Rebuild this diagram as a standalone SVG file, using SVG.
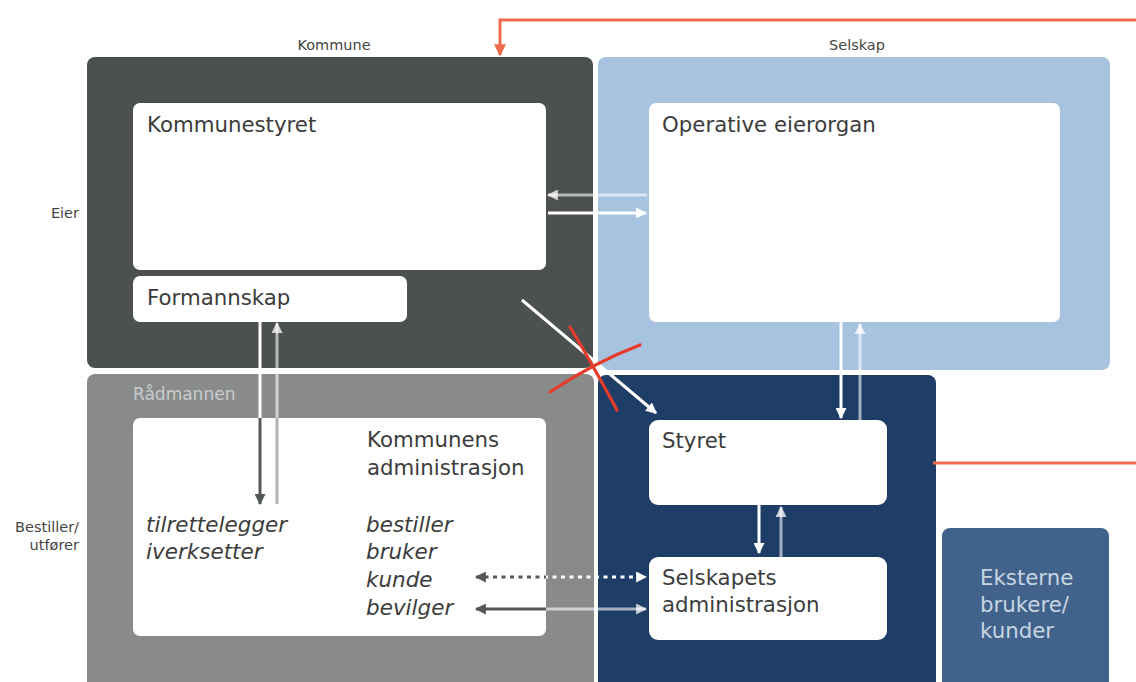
<svg xmlns="http://www.w3.org/2000/svg" width="1136" height="682" viewBox="0 0 1136 682">
<style>
  .lbl { font-family: "DejaVu Sans", Verdana, sans-serif; fill: #3c3c3c; }
  .big { font-size: 21.3px; }
  .it { font-size: 21.5px; font-style: italic; }
  .small { font-size: 14.5px; fill: #444; }
  .side { font-size: 14.5px; fill: #444; text-anchor: end; }
  .wbox { fill: #ffffff; }
  .strongW { stroke: #ffffff; stroke-width: 3; fill: none; }
  .softW { stroke: #ffffff; stroke-opacity: 0.6; stroke-width: 3; fill: none; }
  .strongG { stroke: #555859; stroke-width: 3; fill: none; }
  .softG { stroke: #b2b4b4; stroke-width: 3; fill: none; }
  .red { stroke: #ee6a4c; stroke-width: 3; fill: none; }
  .cross { stroke: #e63b2a; stroke-width: 3.2; fill: none; stroke-linecap: round; }
</style>
<defs>
  <marker id="aW" viewBox="0 0 10 10" refX="9" refY="5" markerWidth="11" markerHeight="11" markerUnits="userSpaceOnUse" orient="auto-start-reverse"><path d="M0,0 L10,5 L0,10 z" fill="#ffffff"/></marker>
  <marker id="aS" viewBox="0 0 10 10" refX="9" refY="5" markerWidth="11" markerHeight="11" markerUnits="userSpaceOnUse" orient="auto-start-reverse"><path d="M0,0 L10,5 L0,10 z" fill="#ffffff" fill-opacity="0.75"/></marker>
  <marker id="aG" viewBox="0 0 10 10" refX="9" refY="5" markerWidth="11" markerHeight="11" markerUnits="userSpaceOnUse" orient="auto-start-reverse"><path d="M0,0 L10,5 L0,10 z" fill="#555859"/></marker>
  <marker id="aL" viewBox="0 0 10 10" refX="9" refY="5" markerWidth="11" markerHeight="11" markerUnits="userSpaceOnUse" orient="auto-start-reverse"><path d="M0,0 L10,5 L0,10 z" fill="#b2b4b4"/></marker>
  <marker id="aR" viewBox="0 0 10 10" refX="9" refY="5" markerWidth="12" markerHeight="12" markerUnits="userSpaceOnUse" orient="auto"><path d="M0,0 L10,5 L0,10 z" fill="#ee6a4c"/></marker>
  <clipPath id="onWhite">
    <rect x="133" y="103" width="413" height="167" rx="7"/>
    <rect x="133" y="276" width="274" height="46" rx="7"/>
    <rect x="649" y="103" width="411" height="219" rx="7"/>
    <rect x="133" y="418" width="413" height="218" rx="7"/>
    <rect x="649" y="420" width="238" height="85" rx="9"/>
    <rect x="649" y="557" width="238" height="83" rx="9"/>
  </clipPath>
</defs>

<rect width="1136" height="682" fill="#ffffff"/>

<!-- Column / row labels -->
<g id="labels">
  <text class="lbl small" x="334" y="50" text-anchor="middle">Kommune</text>
  <text class="lbl small" x="857" y="50" text-anchor="middle">Selskap</text>
  <text class="lbl side" x="79" y="218">Eier</text>
  <text class="lbl side" x="79" y="532">Bestiller/</text>
  <text class="lbl side" x="79" y="550">utfører</text>
</g>

<!-- Background areas -->
<g id="kommune">
  <rect x="87" y="57" width="506" height="311" rx="8" fill="#4d5050"/>
</g>
<g id="selskap">
  <rect x="598" y="57" width="512" height="313" rx="8" fill="#a8c3df"/>
</g>
<g id="radmannen">
  <rect x="87" y="374" width="507" height="318" rx="8" fill="#898b8b"/>
  <text class="lbl" x="133" y="400" font-size="17" style="fill:#c9cbcb">Rådmannen</text>
</g>
<g id="selskap-drift">
  <rect x="598" y="375" width="338" height="317" rx="8" fill="#1e3d67"/>
</g>
<g id="eksterne">
  <rect x="942" y="528" width="167" height="164" rx="8" fill="#41638b"/>
  <text class="lbl big" x="980" y="585" style="fill:#c8d5e3">Eksterne</text>
  <text class="lbl big" x="980" y="612" style="fill:#c8d5e3">brukere/</text>
  <text class="lbl big" x="980" y="638" style="fill:#c8d5e3">kunder</text>
</g>

<!-- White nodes -->
<g id="kommunestyret">
  <rect class="wbox" x="133" y="103" width="413" height="167" rx="7"/>
  <text class="lbl big" x="147" y="132">Kommunestyret</text>
</g>
<g id="formannskap">
  <rect class="wbox" x="133" y="276" width="274" height="46" rx="7"/>
  <text class="lbl big" x="147" y="305">Formannskap</text>
</g>
<g id="operative-eierorgan">
  <rect class="wbox" x="649" y="103" width="411" height="219" rx="7"/>
  <text class="lbl big" x="662" y="132">Operative eierorgan</text>
</g>
<g id="kommunens-administrasjon">
  <rect class="wbox" x="133" y="418" width="413" height="218" rx="7"/>
  <text class="lbl big" x="367" y="447">Kommunens</text>
  <text class="lbl big" x="367" y="475">administrasjon</text>
  <text class="lbl it" x="146" y="532">tilrettelegger</text>
  <text class="lbl it" x="146" y="559">iverksetter</text>
  <text class="lbl it" x="366" y="532">bestiller</text>
  <text class="lbl it" x="366" y="559">bruker</text>
  <text class="lbl it" x="366" y="587">kunde</text>
  <text class="lbl it" x="366" y="615">bevilger</text>
</g>
<g id="styret">
  <rect class="wbox" x="649" y="420" width="238" height="85" rx="9"/>
  <text class="lbl big" x="662" y="448">Styret</text>
</g>
<g id="selskapets-administrasjon">
  <rect class="wbox" x="649" y="557" width="238" height="83" rx="9"/>
  <text class="lbl big" x="662" y="585">Selskapets</text>
  <text class="lbl big" x="662" y="612">administrasjon</text>
</g>

<!-- Connectors -->
<g id="connectors">
  <!-- red feedback lines -->
  <path class="red" d="M1136,20 L500,20 L500,55" marker-end="url(#aR)"/>
  <path class="red" d="M1136,463 L933,463"/>

  <!-- white / light parts on dark backgrounds -->
  <g id="conn-dark">
    <path class="softW" d="M647,195 L548,195" marker-end="url(#aS)"/>
    <path class="strongW" d="M548,213 L646,213" marker-end="url(#aW)"/>
    <path class="strongW" d="M260,322 L260,504" marker-end="url(#aW)"/>
    <path class="softW" d="M277,504 L277,323" marker-end="url(#aS)"/>
    <path class="strongW" d="M522,300 L656,413" marker-end="url(#aW)"/>
    <path class="strongW" d="M841,322 L841,418" marker-end="url(#aW)"/>
    <path class="softW" d="M860,420 L860,324" marker-end="url(#aS)"/>
    <path class="strongW" d="M759,505 L759,553" marker-end="url(#aW)"/>
    <path class="softW" d="M781,557 L781,507" marker-end="url(#aS)"/>
    <path class="strongW" d="M476,577 L646,577" stroke-dasharray="4 4.5" marker-start="url(#aW)" marker-end="url(#aW)"/>
    <path class="softW" d="M476,609 L646,609" marker-start="url(#aS)" marker-end="url(#aS)"/>
  </g>
  <!-- grey parts where the connectors run over white boxes -->
  <g id="conn-white" clip-path="url(#onWhite)">
    <path class="softG" d="M647,195 L548,195" marker-end="url(#aL)"/>
    <path class="strongG" d="M260,322 L260,504" marker-end="url(#aG)"/>
    <path class="softG" d="M277,504 L277,323" marker-end="url(#aL)"/>
    <path class="strongG" d="M476,577 L646,577" stroke-dasharray="4 4.5" marker-start="url(#aG)"/>
    <path class="strongG" d="M476,609 L646,609" stroke="#6a6c6c" marker-start="url(#aG)"/>
  </g>

  <!-- red cross over the crossed-out link -->
  <path class="cross" d="M570,327 Q590,360 617,410"/>
  <path class="cross" d="M550,392 Q595,362 640,345"/>
</g>
</svg>
